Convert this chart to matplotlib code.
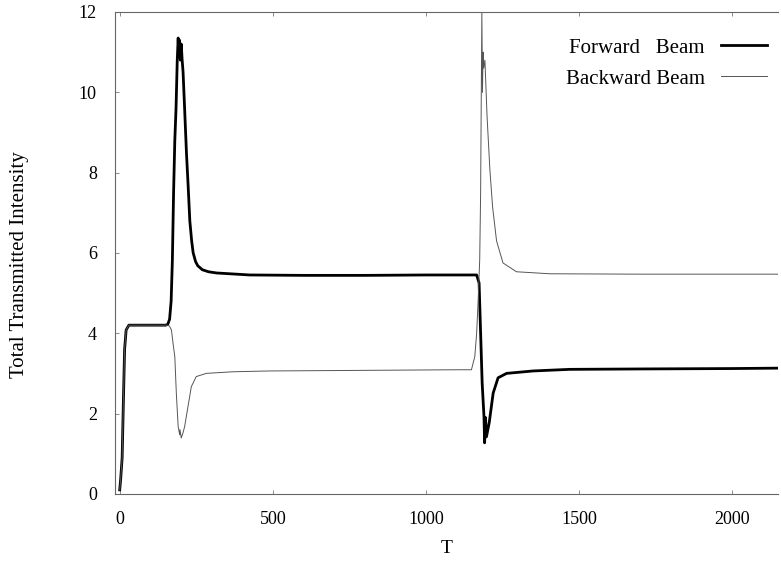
import matplotlib
matplotlib.use("Agg")
import matplotlib.pyplot as plt

plt.rcParams['font.family'] = ['Liberation Serif', 'DejaVu Serif']

# Forward beam
t_fwd = [0, 3, 8, 12, 16, 21, 30, 50, 100, 150, 157, 163, 168, 172, 176, 180, 184, 188, 191,
         193, 195, 198, 201, 204, 207, 212, 218, 224, 229, 235, 240, 248, 255, 270, 290, 316,
         425, 600, 800, 1000, 1166, 1174, 1179, 1184, 1190, 1192, 1195, 1198, 1207, 1220, 1236,
         1264, 1350, 1470, 1700, 2000, 2150]
i_fwd = [0.1, 0.35, 0.9, 2.3, 3.6, 4.08, 4.2, 4.2, 4.2, 4.2, 4.22, 4.35, 4.8, 5.8, 7.5, 8.8,
         9.6, 10.8, 11.35, 10.9, 11.3, 10.8, 11.2, 10.8, 10.5, 9.6, 8.5, 7.6, 6.8, 6.3, 6.0,
         5.78, 5.68, 5.58, 5.53, 5.5, 5.45, 5.44, 5.44, 5.45, 5.45, 5.25, 4.0, 2.76, 1.92, 1.27,
         1.9, 1.42, 1.77, 2.51, 2.89, 3.0, 3.06, 3.1, 3.11, 3.12, 3.13]

# Backward beam
t_bwd = [0, 3, 8, 12, 16, 21, 30, 50, 100, 150, 157, 163, 169, 175, 180, 185, 191, 196, 197,
         201, 206, 212, 223, 234, 250, 283, 370, 490, 700, 900, 1100, 1149, 1160, 1166, 1171,
         1176, 1179, 1181, 1183, 1185, 1187, 1189, 1193, 1200, 1209, 1218, 1231, 1252, 1296,
         1405, 1700, 2150]
i_bwd = [0.1, 0.35, 0.9, 2.3, 3.6, 4.08, 4.2, 4.2, 4.2, 4.2, 4.2, 4.17, 4.08, 3.7, 3.42, 2.5,
         1.67, 1.47, 1.6, 1.39, 1.5, 1.67, 2.17, 2.67, 2.92, 3.0, 3.04, 3.06, 3.07, 3.08, 3.09,
         3.09, 3.42, 4.0, 4.83, 5.83, 7.5, 9.8, 12.0, 10.0, 11.0, 10.6, 10.8, 9.4, 8.1, 7.15,
         6.3, 5.75, 5.53, 5.48, 5.47, 5.47]

x_ticks = [0, 500, 1000, 1500, 2000]
y_ticks = [0, 2, 4, 6, 8, 10, 12]

fig = plt.figure(figsize=(7.81, 5.67), dpi=100)
ax = fig.add_axes([0.147, 0.129, 0.849, 0.850])

ax.plot(t_fwd, i_fwd, color='black', lw=2.0, label='Forward   Beam')
ax.plot(t_bwd, i_bwd, color='#555555', lw=0.7, label='Backward Beam')

ax.set_xlim(-16, 2150)
ax.set_ylim(0, 12)
ax.set_xticks(x_ticks)
ax.set_yticks(y_ticks)
ax.tick_params(direction='in', length=3, width=0.6, color='#777777', labelsize=13,
               top=True, right=False)
ax.tick_params(axis='x', pad=12)
ax.tick_params(axis='y', pad=13)
for s in ax.spines.values():
    s.set_color('#666666')
    s.set_linewidth(0.8)
ax.spines['right'].set_visible(False)

ax.set_xlabel('T', fontsize=14, labelpad=9)
ax.set_ylabel('Total Transmitted Intensity', fontsize=15, labelpad=36)
ax.yaxis.label.set_y(0.475)

leg = ax.legend(loc='upper right', frameon=False, markerfirst=False, fontsize=15,
                handlelength=2.2, handletextpad=0.8, labelspacing=0.55,
                borderpad=0, borderaxespad=0,
                bbox_to_anchor=(767 / 781, 1 - 38 / 567), bbox_transform=fig.transFigure)

fig.savefig('out.png', dpi=100)
